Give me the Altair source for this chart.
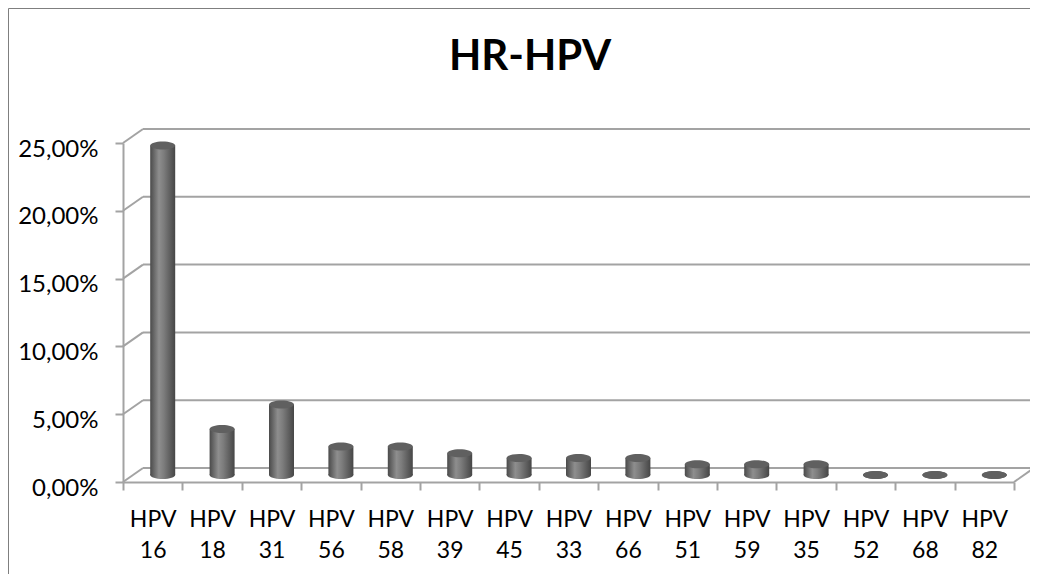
import altair as alt
import pandas as pd

categories = ["HPV 16", "HPV 18", "HPV 31", "HPV 56", "HPV 58", "HPV 39", "HPV 45",
              "HPV 33", "HPV 66", "HPV 51", "HPV 59", "HPV 35", "HPV 52", "HPV 68", "HPV 82"]
values = [0.243, 0.034, 0.052, 0.021, 0.021, 0.016, 0.0125,
          0.0125, 0.0125, 0.008, 0.008, 0.008, 0.0, 0.0, 0.0]
y_ticks = [0, 0.05, 0.10, 0.15, 0.20, 0.25]
title_text = "HR-HPV"

W, H = 891, 339
DX, DY = 20, -14          # depth of the 3D back wall
BX, BY = 10, -7           # cylinders sit halfway in depth
BAR_W = 25
GRID = "#a3a3a3"
FONT = "Lato"

df = pd.DataFrame({"cat": categories, "val": values})
grid_df = pd.DataFrame({"v": y_ticks})

yscale = alt.Scale(domain=[0, 0.25], nice=False)
yaxis = alt.Axis(values=y_ticks,
                 labelExpr="replace(format(datum.value*100, '.2f'), '.', ',') + '%'",
                 labelFont=FONT, labelFontSize=24, labelColor="#000000",
                 labelPadding=17, labelOffset=6,
                 tickColor=GRID, tickWidth=2, tickSize=8,
                 domainColor=GRID, domainWidth=2, grid=False)
xenc = alt.X("cat:N", sort=categories, title=None,
             scale=alt.Scale(paddingInner=0, paddingOuter=0),
             axis=alt.Axis(labelExpr="split(datum.label, ' ')", labelAngle=0,
                           labelFont=FONT, labelFontSize=23, labelColor="#000000",
                           labelLineHeight=31, labelPadding=18, labelBaseline="top",
                           tickBand="extent", tickColor=GRID, tickWidth=2, tickSize=8,
                           domainColor=GRID, domainWidth=2, grid=False))

def yq(field):
    return alt.Y(field, scale=yscale, title=None, axis=yaxis)

# back wall gridlines
back = alt.Chart(grid_df).mark_rule(color=GRID, strokeWidth=2, yOffset=DY).encode(
    x=alt.value(DX), x2=alt.value(W + DX + 10), y=yq("v:Q"))
# side wall diagonals
diag = alt.Chart(grid_df).mark_rule(color=GRID, strokeWidth=2, y2Offset=DY).encode(
    x=alt.value(0), x2=alt.value(DX), y=yq("v:Q"), y2="v:Q")
# floor right edge
floor_r = alt.Chart(pd.DataFrame({"v": [0]})).mark_rule(color=GRID, strokeWidth=2, y2Offset=DY).encode(
    x=alt.value(W), x2=alt.value(W + DX), y=yq("v:Q"), y2="v:Q")

grad = alt.Gradient(gradient="linear", x1=0, x2=1, y1=0, y2=0, stops=[
    alt.GradientStop(offset=0, color="#4a4a4a"),
    alt.GradientStop(offset=0.35, color="#8e8e8e"),
    alt.GradientStop(offset=0.55, color="#7c7c7c"),
    alt.GradientStop(offset=1, color="#464646")])

ellipse = "M -1 0 A 1 0.32 0 1 0 1 0 A 1 0.32 0 1 0 -1 0 Z"

bottoms = alt.Chart(df).mark_point(shape=ellipse, size=BAR_W * BAR_W, filled=True,
                                   fill=grad, strokeWidth=0, opacity=1,
                                   xOffset=BX, yOffset=BY).encode(
    x=xenc, y=alt.datum(0, scale=yscale, axis=yaxis))
bars = alt.Chart(df).mark_bar(size=BAR_W, color=grad, xOffset=BX, yOffset=BY).encode(
    x=xenc, y=yq("val:Q"))
tops = alt.Chart(df).mark_point(shape=ellipse, size=BAR_W * BAR_W, filled=True,
                                fill="#606060", strokeWidth=0, opacity=1,
                                xOffset=BX, yOffset=BY).encode(
    x=xenc, y=yq("val:Q"))

one = pd.DataFrame({"t": [title_text]})
frame_l = alt.Chart(one).mark_rule(color="#7f7f7f", strokeWidth=1).encode(
    x=alt.value(-114.5), y=alt.value(-134.5), y2=alt.value(H + 100))
frame_t = alt.Chart(one).mark_rule(color="#7f7f7f", strokeWidth=1).encode(
    x=alt.value(-114.5), x2=alt.value(W + 30), y=alt.value(-134.5))
title = alt.Chart(one).mark_text(font=FONT, fontSize=42, fontWeight="bold",
                                 color="#000000", baseline="alphabetic", align="center").encode(
    text="t:N", x=alt.value(407), y=alt.value(-73))

chart = alt.layer(back, diag, floor_r, bottoms, bars, tops, frame_l, frame_t, title).properties(
    width=W, height=H,
    background="#ffffff",
    autosize=alt.AutoSizeParams(type="none"),
    padding={"left": 115, "top": 135, "right": 16, "bottom": 92},
).configure_view(stroke=None, strokeWidth=0)

chart.save("out.html", embed_options={"renderer": "svg", "actions": False})
